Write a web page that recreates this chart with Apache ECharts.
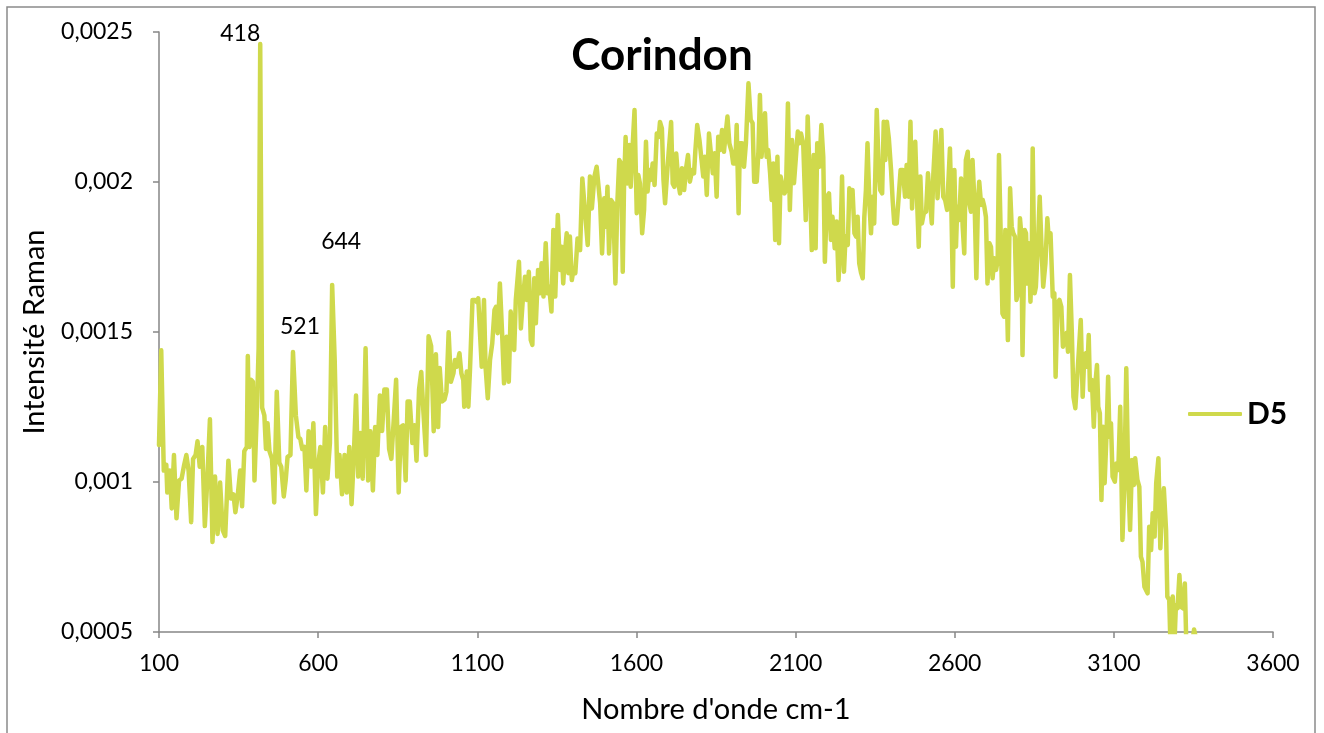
<!DOCTYPE html>
<html>
<head>
<meta charset="utf-8">
<title>Corindon</title>
<script src="https://cdn.jsdelivr.net/npm/echarts@6/dist/echarts.min.js"></script>
<style>
  html, body { margin: 0; padding: 0; background: #ffffff; }
  #chart { width: 1324px; height: 733px; }
</style>
</head>
<body>
<div id="chart"></div>
<script>
// Raman spectrum of sample D5 (corundum)
const seriesName = 'D5';
const chartTitle = 'Corindon';
const xTitle = "Nombre d'onde cm-1";
const yTitle = 'Intensité Raman';

// wavenumber (cm-1)
const wavenumbers = [
  100,107,115,123,126,134,140,147,155,163,171,179,186,193,201,207,215,221,228,236,
  244,252,260,268,276,284,292,300,308,318,326,334,340,347,355,361,368,376,379,384,
  389,395,400,407,413,418,424,431,436,441,447,455,462,470,478,484,492,498,504,513,
  521,530,538,544,550,557,563,570,578,585,593,600,607,615,622,629,637,644,652,660,
  667,675,683,690,698,705,712,719,726,733,740,749,757,764,772,779,786,794,801,808,
  816,823,830,838,845,853,860,867,875,881,888,896,903,909,917,924,931,939,947,955,
  963,970,977,982,989,997,1003,1010,
  1017,1025,1030,1035,1044,1050,1056,1059,1067,1072,1077,1085,1093,1098,1103,1108,
  1114,1121,1126,1133,1140,1147,1154,1159,1164,1171,1178,1184,1192,1199,1205,1211,
  1216,1221,1231,
  1237,1243,1250,1255,1262,1268,1273,1279,1284,1291,1297,1302,1308,1315,1321,1326,
  1333,1339,1345,1353,1360,1365,1370,1376,1381,1386,1391,1397,1402,1408,1415,1423,
  1430,1438,1447,1454,1460,1468,1475,1481,1486,1492,1499,1504,1509,1514,1520,1527,
  1534,1540,1546,1552,1557,1561,1566,1571,1578,1582,1588,1594,1601,1606,1611,1618,
  1624,1630,1635,1641,1646,1651,1657,1664,1670,1674,1680,1685,1690,1695,1701,1709,
  1714,1719,1725,1732,1737,1743,1750,1756,1762,1768,1775,1781,1785,1791,1798,1804,
  1810,1815,1821,1828,
  1834,1840,1846,1852,1857,1863,1869,1875,1881,1886,1892,1899,1904,1911,1915,1921,
  1925,1932,1938,1944,1952,1959,1965,1970,1978,1983,1988,1993,1999,2004,2009,2014,
  2020,2025,2030,2036,2043,2048,2053,2059,2065,2070,2076,2082,2089,2095,2101,2107,
  2112,2117,2124,2132,2138,2144,2151,2157,2163,2168,2175,2181,2187,2192,2199,2205,
  2211,2216,2223,2229,2235,2241,2246,2252,2257,2264,2269,2274,2279,2285,2290,2295,
  2300,2306,2311,2316,2321,2326,2332,2337,2342,2347,2355,2361,2366,2372,2377,2382,
  2387,2393,2400,2405,2410,2418,2424,2430,2437,2444,2449,2455,2461,2466,2471,2476,
  2481,2487,2492,2497,2503,2510,2516,2522,2528,2533,2540,2546,2552,2558,2564,2570,
  2576,2581,2585,2589,2594,2599,2604,2608,2614,2620,2625,2630,2635,2641,2646,2651,
  2656,2663,2668,2673,2677,2683,2688,2693,2698,2703,2709,2714,2719,2724,2730,2735,
  2739,
  2750,2755,2759,2763,2767,2774,2779,2784,2789,2794,2799,2805,2809,2813,2820,2824,
  2829,2833,2838,2842,2845,2851,2855,2862,2867,2873,2878,2885,2891,2896,2901,2908,
  2913,2917,2923,2929,2935,2940,2945,2951,2956,2962,2968,2973,2979,
  2996,3002,3007,3012,3017,3021,3025,3031,3037,3042,3047,3051,3056,3061,3066,3071,
  3077,3082,3086,3091,3096,3103,3108,3114,3120,3127,3133,3139,3145,3151,3157,3163,
  3167,3174,3180,3185,3190,3196,3201,3206,3211,3217,3222,3228,3233,3240,3246,3251,
  3257,3264,3268,3274,3278,3285,3290,3295,3300,3306,3311,3318,3323,3329,3340,3352,
  3358,3368
];

// Raman intensity
const intensities = [
  0.001123,0.001439,0.001038,0.001057,0.000965,0.001038,0.000912,0.001090,0.000879,0.001005,
  0.001011,0.001057,0.001090,0.001038,0.000866,0.001077,0.001090,0.001136,0.001051,0.001117,
  0.000853,0.001011,0.001209,0.000800,0.001018,0.000827,0.000998,0.000840,0.000820,0.001071,
  0.000945,0.000959,0.000899,0.000952,0.001038,0.000919,0.001103,0.001117,0.001420,0.001117,
  0.001341,0.001334,0.001005,0.001222,0.001446,0.002460,0.001248,0.001222,0.001110,0.001196,
  0.001103,0.001077,0.000932,0.001301,0.001064,0.001051,0.000952,0.001005,0.001084,0.001090,
  0.001433,0.001222,0.001150,0.001143,0.001110,0.001117,0.000972,0.001169,0.001051,0.001196,
  0.000893,0.001057,0.001117,0.000965,0.001183,0.001011,0.001130,0.001657,0.001406,0.001018,
  0.001090,0.000959,0.001090,0.000965,0.001117,0.000926,0.001084,0.001288,0.001018,0.001163,
  0.001011,0.001446,0.001005,0.001169,0.000972,0.001183,0.001090,0.001288,0.001170,0.001308,
  0.001308,0.001110,0.001077,0.001215,0.001341,0.000965,0.001183,0.001189,0.001005,0.001268,
  0.001268,0.001130,0.001189,0.001071,0.001308,0.001367,0.001229,0.001090,0.001486,0.001453,
  0.001169,0.001426,0.001183,0.001380,0.001268,0.001275,0.001301,0.001499,
  0.001334,0.001362,0.001407,0.001384,0.001429,0.001362,0.001340,0.001251,0.001368,0.001251,
  0.001373,0.001607,0.001607,0.001600,0.001612,0.001507,0.001384,0.001607,0.001384,0.001279,
  0.001407,0.001462,0.001573,0.001584,0.001496,0.001662,0.001496,0.001329,0.001484,0.001334,
  0.001568,0.001573,0.001440,0.001607,0.001734,
  0.001512,0.001607,0.001684,0.001607,0.001701,0.001473,0.001457,0.001679,0.001529,0.001707,
  0.001629,0.001729,0.001618,0.001796,0.001629,0.001651,0.001568,0.001840,0.001618,0.001890,
  0.001707,0.001784,0.001662,0.001773,0.001829,0.001696,0.001818,0.001673,0.001707,0.001696,
  0.001812,0.001773,0.002012,0.001907,0.001790,0.002018,0.001912,0.002018,0.002051,0.001984,
  0.001929,0.001762,0.001946,0.001851,0.001984,0.001762,0.001940,0.001929,0.001662,0.001929,
  0.002073,0.002062,0.001701,0.001984,0.002150,0.001995,0.002123,0.001984,0.002118,0.002240,
  0.001896,0.002023,0.001995,0.001829,0.001907,0.002134,0.001968,0.002040,0.002007,0.002062,
  0.001990,0.002162,0.002150,0.002200,0.002179,0.002007,0.001929,0.002007,0.002095,0.002200,
  0.001995,0.001984,0.002095,0.001995,0.001962,0.002046,0.001973,0.002046,0.002090,0.002001,
  0.002040,0.002029,0.002101,0.002190,0.002140,0.002140,0.002018,0.002084,0.001957,0.002162,
  0.002157,0.002029,0.002096,0.001951,0.002151,0.002107,0.002173,0.002101,0.002168,0.002218,
  0.002129,0.002101,0.002062,0.002062,0.002190,0.001896,0.002129,0.002129,0.002051,0.002129,
  0.002329,0.002207,0.002196,0.002001,0.002001,0.002096,0.002290,0.002084,0.002084,0.002229,
  0.002084,0.002107,0.002029,0.001940,0.002062,0.001807,0.002084,0.001796,0.002018,0.002018,
  0.001962,0.001973,0.002262,0.001907,0.002140,0.001996,0.001996,0.002168,0.002129,0.002162,
  0.002129,0.001873,0.002218,0.002029,0.001773,0.002090,0.001779,0.002129,0.002051,0.002190,
  0.002084,0.001734,0.001951,0.001962,0.001807,0.001884,0.001779,0.001868,0.001673,0.001801,
  0.002018,0.001701,0.001818,0.001790,0.001979,0.001962,0.001973,0.001829,0.001818,0.001884,
  0.001729,0.001696,0.001679,0.001884,0.001973,0.002129,0.001929,0.001829,0.001951,0.001862,
  0.002240,0.002051,0.001973,0.001962,0.002201,0.002073,0.002201,0.002146,0.002040,0.001940,
  0.001862,0.001862,0.001862,0.002040,0.002040,0.001951,0.002057,0.001951,0.002201,0.001912,
  0.002046,0.002134,0.001962,0.001784,0.002018,0.001862,0.001896,0.001901,0.002029,0.002029,
  0.001862,0.002029,0.002168,0.001946,0.001940,0.002173,0.001951,0.001940,0.001907,0.001907,
  0.002112,0.001940,0.001651,0.002040,0.001784,0.001918,0.001873,0.002012,0.001851,0.001762,
  0.002073,0.002101,0.001929,0.001901,0.002073,0.001907,0.001679,0.001929,0.002001,0.001923,
  0.001940,0.001918,0.001884,0.001662,0.001796,0.001784,0.001679,0.001746,0.001707,0.001740,
  0.002090,
  0.001562,0.001551,0.001840,0.001840,0.001473,0.001979,0.001851,0.001829,0.001818,0.001607,
  0.001629,0.001879,0.001829,0.001423,0.001840,0.001829,0.001662,0.001796,0.001601,0.001740,
  0.002112,0.001629,0.001651,0.001807,0.001951,0.001773,0.001651,0.001729,0.001879,0.001801,
  0.001829,0.001618,0.001629,0.001351,0.001596,0.001607,0.001584,0.001451,0.001484,0.001496,
  0.001434,0.001690,0.001496,0.001284,0.001246,
  0.001540,0.001284,0.001418,0.001429,0.001384,0.001490,0.001307,0.001340,0.001184,0.001329,
  0.001390,0.001251,0.001229,0.000940,0.001184,0.000996,0.001162,0.001351,0.001151,0.001196,
  0.001018,0.001001,0.001062,0.001040,0.001251,0.000807,0.000996,0.001379,0.001018,0.000840,
  0.001073,0.000990,0.001079,0.001007,0.000984,0.000751,0.000734,0.000651,0.000646,0.000629,
  0.000851,0.000773,0.000896,0.000818,0.000996,0.001079,0.000779,0.000896,0.000979,0.000840,
  0.000618,0.000607,0.000450,0.000618,0.000450,0.000590,0.000579,0.000690,0.000584,0.000579,
  0.000662,0.000400,0.000420,0.000508,0.000506,0.000430
];

// labelled bands (cm-1)
const peakWavenumbers = [418, 521, 644];

// axis ranges and steps
const xRange = [100, 3600], xStep = 500;
const yRange = [0.0005, 0.0025], yStep = 0.0005;

const FONT = 'Lato, "Open Sans", sans-serif';
const LINE_COLOR = '#cfd94c';
const AXIS_COLOR = '#868686';
const TEXT_COLOR = '#000000';

// where each band label sits relative to its peak (label drawn above the point)
const peakLabelOffset = { 418: [-20, 2], 521: [7, -14], 644: [9, -31] };

const spectrum = wavenumbers.map((w, i) => [w, intensities[i]]);
const peaks = peakWavenumbers.map(w => ({
  value: [w, intensities[wavenumbers.indexOf(w)]],
  label: { offset: peakLabelOffset[w] }
}));

const chart = echarts.init(document.getElementById('chart'), null, { renderer: 'canvas' });

chart.setOption({
  animation: false,
  backgroundColor: '#ffffff',
  title: {
    text: chartTitle,
    left: 'center',
    top: 34,
    padding: 0,
    textStyle: { fontFamily: FONT, fontWeight: 'bold', fontSize: 44, color: TEXT_COLOR }
  },
  legend: {
    data: [seriesName],
    left: 1183,
    top: 394,
    icon: 'roundRect',
    itemWidth: 54,
    itemHeight: 4,
    textStyle: { fontFamily: FONT, fontWeight: 'bold', fontSize: 30, color: TEXT_COLOR }
  },
  grid: { left: 159, top: 32, width: 1114, height: 600, containLabel: false },
  xAxis: {
    type: 'value',
    min: xRange[0],
    max: xRange[1],
    interval: xStep,
    name: xTitle,
    nameLocation: 'middle',
    nameGap: 63,
    nameTextStyle: { fontFamily: FONT, fontSize: 29, color: TEXT_COLOR },
    axisLine: { show: true, lineStyle: { color: AXIS_COLOR, width: 1.5 } },
    axisTick: { show: true, length: 6, lineStyle: { color: AXIS_COLOR, width: 1.5 } },
    splitLine: { show: false },
    axisLabel: {
      fontFamily: FONT, fontSize: 23, color: TEXT_COLOR, margin: 20,
      formatter: v => String(v)
    }
  },
  yAxis: {
    type: 'value',
    min: yRange[0],
    max: yRange[1],
    interval: yStep,
    name: yTitle,
    nameLocation: 'middle',
    nameRotate: 90,
    nameGap: 110,
    nameTextStyle: { fontFamily: FONT, fontSize: 29, color: TEXT_COLOR },
    axisLine: { show: true, lineStyle: { color: AXIS_COLOR, width: 1.5 } },
    axisTick: { show: true, length: 6, lineStyle: { color: AXIS_COLOR, width: 1.5 } },
    splitLine: { show: false },
    axisLabel: {
      fontFamily: FONT, fontSize: 23, color: TEXT_COLOR, margin: 26,
      formatter: v => String(+v.toFixed(6)).replace('.', ',')
    }
  },
  series: [
    {
      name: seriesName,
      type: 'line',
      data: spectrum,
      showSymbol: false,
      symbol: 'none',
      clip: true,
      itemStyle: { color: LINE_COLOR },
      lineStyle: { color: LINE_COLOR, width: 4.5, cap: 'round', join: 'round' },
      z: 2
    },
    {
      name: 'bands',
      type: 'scatter',
      data: peaks,
      symbolSize: 1,
      itemStyle: { color: LINE_COLOR, opacity: 0 },
      label: {
        show: true,
        position: 'top',
        distance: 0,
        formatter: p => String(p.value[0]),
        fontFamily: FONT,
        fontSize: 23,
        color: TEXT_COLOR,
        opacity: 1
      },
      silent: true,
      z: 3
    }
  ],
  graphic: [
    {
      type: 'rect',
      silent: true,
      shape: { x: 7, y: 7, width: 1308, height: 760 },
      style: { fill: 'none', stroke: '#8a8a8a', lineWidth: 1.5 }
    }
  ]
});
</script>
</body>
</html>
